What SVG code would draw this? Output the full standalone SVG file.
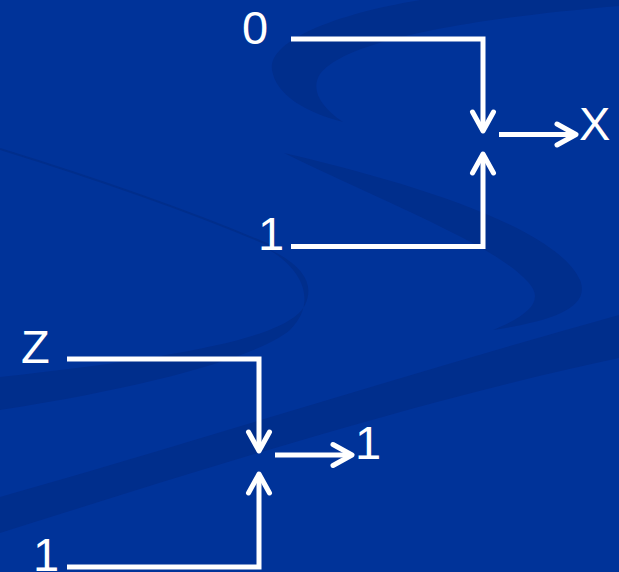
<svg xmlns="http://www.w3.org/2000/svg" width="619" height="572" viewBox="0 0 619 572">
  <style>
    .bg { fill: #003399; }
    .sw { fill: #002E8C; }
    .lbl { font-family: "Liberation Sans", Arial, sans-serif; font-size: 47px; fill: #FFFFFF; }
    .wire { fill: none; stroke: #FFFFFF; stroke-width: 5; stroke-linejoin: miter; stroke-linecap: butt; }
  </style>
  <defs>
    <marker id="head" markerUnits="userSpaceOnUse" viewBox="-24 -14 28 28" markerWidth="28" markerHeight="28" refX="0" refY="0" orient="auto" overflow="visible">
      <path d="M -19,-10.5 L 0,0 L -19,10.5" fill="none" stroke="#FFFFFF" stroke-width="5" stroke-linecap="round" stroke-linejoin="round"/>
    </marker>
  </defs>

  <g id="background">
    <rect class="bg" x="0" y="0" width="619" height="572"/>
    <path class="sw" d="M 420,0 C 330,15 268,42 272,70 C 276,95 305,112 343,122 C 322,108 312,92 318,78 C 332,48 430,22 619,6 L 619,0 Z"/>
    <path d="M 0,149 C 100,180 200,215 276,248" fill="none" stroke="#002E8C" stroke-width="2"/>
    <path class="sw" d="M 284,153 C 400,180 555,225 580,280 C 592,310 545,322 493,330 C 530,315 545,300 528,282 C 495,245 390,205 284,153 Z"/>
    <path class="sw" d="M 262,246 C 300,262 316,282 305,305 C 290,335 200,355 0,377 L 0,410 C 160,385 260,355 290,330 C 320,300 300,265 262,246 Z"/>
    <path class="sw" d="M 0,497 C 200,440 420,370 619,315 L 619,358 C 420,400 200,470 0,533 Z"/>
  </g>

  <g id="connectors">
    <path class="wire" d="M 291,39 H 483 V 131" marker-end="url(#head)"/>
    <path class="wire" d="M 291,246.5 H 483 V 154" marker-end="url(#head)"/>
    <path class="wire" d="M 499,134.5 H 576" marker-end="url(#head)"/>
    <path class="wire" d="M 67,359 H 259 V 451" marker-end="url(#head)"/>
    <path class="wire" d="M 67,567 H 259 V 474" marker-end="url(#head)"/>
    <path class="wire" d="M 275,455 H 352" marker-end="url(#head)"/>
  </g>

  <g id="node-top-in0"><text class="lbl" x="242" y="44">0</text></g>
  <g id="node-top-in1"><text class="lbl" x="258" y="250">1</text></g>
  <g id="node-top-out"><text class="lbl" x="579" y="140">X</text></g>
  <g id="node-bot-inz"><text class="lbl" x="21" y="363">Z</text></g>
  <g id="node-bot-in1"><text class="lbl" x="33" y="571">1</text></g>
  <g id="node-bot-out"><text class="lbl" x="355" y="459">1</text></g>
</svg>
